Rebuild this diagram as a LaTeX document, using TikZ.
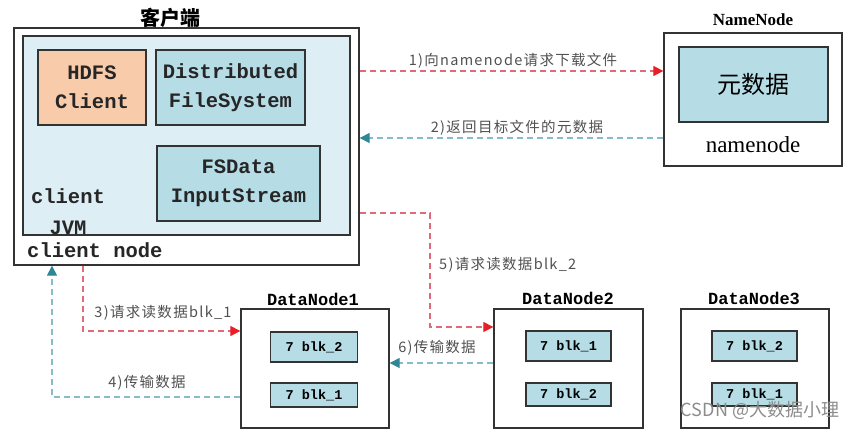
\documentclass[tikz,border=0pt]{standalone}
\usepackage{fontspec}
\setmainfont{Liberation Serif}
\setmonofont{Liberation Mono}
\newfontfamily\cjk{Noto Sans CJK SC}
\newfontfamily\cjklbl[LetterSpace=9]{Noto Sans CJK SC}
\usetikzlibrary{arrows.meta}
\definecolor{jvmfill}{HTML}{DDEEF4}
\definecolor{blkfill}{HTML}{B6DCE6}
\definecolor{peach}{HTML}{F8CBAA}
\definecolor{redl}{HTML}{E0697A}
\definecolor{redh}{HTML}{E81E28}
\definecolor{teall}{HTML}{86BCC8}
\definecolor{tealh}{HTML}{2E8696}
\definecolor{boxline}{HTML}{333333}
\definecolor{lblcol}{HTML}{505050}
\begin{document}
\begin{tikzpicture}[x=1pt,y=-1pt,
  box/.style={draw=boxline, line width=1.3pt, inner sep=0pt},
  outerbox/.style={box, fill=white},
  blkbox/.style={box, fill=blkfill},
  mono/.style={font=\ttfamily\bfseries\fontsize{20.5}{29}\selectfont, text=black!85, align=center},
  monob/.style={font=\ttfamily\bfseries\fontsize{17}{20}\selectfont},
  blktxt/.style={font=\ttfamily\bfseries\fontsize{13.5}{16}\selectfont},
  lbl/.style={font=\cjklbl\fontsize{14.5}{16}\selectfont, text=lblcol, inner sep=0pt},
  redarrow/.style={draw=redl, line width=1.2pt, dash pattern=on 6pt off 4pt,
    -{Triangle[length=10pt,width=10pt,color=redh]}},
  tealarrow/.style={draw=teall, line width=1.2pt, dash pattern=on 6pt off 4pt,
    -{Triangle[length=10pt,width=10pt,color=tealh]}}
]
\useasboundingbox (0,0) rectangle (861,429);

% client side
\node[font=\cjk\bfseries\fontsize{20}{22}\selectfont] (ctitle) at (170,18) {客户端};
\node[outerbox, minimum width=345pt, minimum height=237pt] (client) at (186.5,146.5) {};
\node[box, fill=jvmfill, minimum width=327pt, minimum height=199pt] (jvm) at (186.5,135.5) {};
\node[box, fill=peach, minimum width=108pt, minimum height=75pt, mono] (hdfs) at (92,87.5) {HDFS\\Client};
\node[blkbox, minimum width=149pt, minimum height=75pt, mono] (dfs) at (230.5,87.5) {Distributed\\FileSystem};
\node[blkbox, minimum width=163pt, minimum height=75pt, mono] (fsd) at (238.5,183.5) {FSData\\InputStream};
\node[mono, font=\ttfamily\bfseries\fontsize{20.5}{31}\selectfont, inner sep=0pt] (cjvm) at (68,212) {client\\JVM};
\node[mono, inner sep=0pt, anchor=west] (cnode) at (27,250) {client node};

% namenode
\node[font=\bfseries\fontsize{17}{20}\selectfont] (nntitle) at (753,20) {NameNode};
\node[outerbox, minimum width=178pt, minimum height=133pt] (nn) at (753,99.5) {};
\node[blkbox, minimum width=149pt, minimum height=75pt, font=\cjk\fontsize{24}{26}\selectfont] (meta) at (753.5,84.5) {元数据};
\node[font=\fontsize{23}{26}\selectfont] (nnname) at (753,145) {namenode};

% datanodes
\node[monob] (d1title) at (313,299) {DataNode1};
\node[outerbox, minimum width=148pt, minimum height=119pt] (dn1) at (315,368.5) {};
\node[blkbox, blktxt, minimum width=87pt, minimum height=30pt] (d1a) at (314,347) {7 blk\_2};
\node[blkbox, blktxt, minimum width=87pt, minimum height=24pt] (d1b) at (314,395) {7 blk\_1};

\node[monob] (d2title) at (568,298) {DataNode2};
\node[outerbox, minimum width=149pt, minimum height=119pt] (dn2) at (568.5,368.5) {};
\node[blkbox, blktxt, minimum width=85pt, minimum height=30pt] (d2a) at (568.5,346) {7 blk\_1};
\node[blkbox, blktxt, minimum width=85pt, minimum height=23pt] (d2b) at (568.5,394.5) {7 blk\_2};

\node[monob] (d3title) at (754,298) {DataNode3};
\node[outerbox, minimum width=148pt, minimum height=119pt] (dn3) at (755,368.5) {};
\node[blkbox, blktxt, minimum width=85pt, minimum height=30pt] (d3a) at (754.5,346) {7 blk\_2};
\node[blkbox, blktxt, minimum width=85pt, minimum height=23pt] (d3b) at (754.5,394.5) {7 blk\_1};

% connectors
\draw[redarrow] (client.east |- 0,71) -- (nn.west |- 0,71);
\node[lbl] (l1) at (513,61) {1)向namenode请求下载文件};
\draw[tealarrow] (nn.west |- 0,138) -- (client.east |- 0,138);
\node[lbl] (l2) at (517,128) {2)返回目标文件的元数据};

\draw[redarrow] (client.south -| 83,0) |- (dn1.west |- 0,331);
\node[lbl] (l3) at (163,313) {3)请求读数据blk\_1};
\draw[tealarrow] (dn1.west |- 0,397) -| (client.south -| 52,0);
\node[lbl] (l4) at (147,383) {4)传输数据};

\coordinate (bend5) at (430,213);
\draw[redarrow] (client.east |- bend5) -- (bend5) |- (dn2.west |- 0,327);
\node[lbl, anchor=west] (l5) at (439,265) {5)请求读数据blk\_2};
\draw[tealarrow] (dn2.west |- 0,363) -- (dn1.east |- 0,363);
\node[lbl] (l6) at (437,348) {6)传输数据};

\node[font=\cjk\fontsize{18}{20}\selectfont, text=black!45, inner sep=0pt] (wm) at (760,410) {CSDN @大数据小理};
\end{tikzpicture}
\end{document}
